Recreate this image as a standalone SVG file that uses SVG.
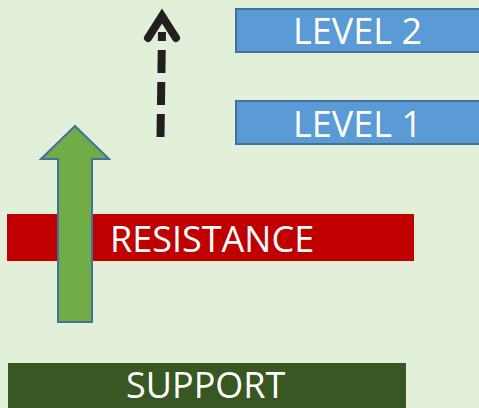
<svg xmlns="http://www.w3.org/2000/svg" width="479" height="408" viewBox="0 0 479 408">
<style>
.lbl{font-family:"Open Sans","Liberation Sans",sans-serif;font-size:36px;fill:#ffffff}
.lvl{fill:#5B9BD5;stroke:#41719C;stroke-width:2}
</style>
<rect x="0" y="0" width="479" height="408" fill="#E2EFD9"/>
<g id="resistance">
<rect x="7" y="214" width="407" height="47" fill="#C00000"/>
<text class="lbl" x="110" y="252">RESISTANCE</text>
</g>
<g id="support">
<rect x="8" y="363" width="398" height="45" fill="#385723"/>
<text class="lbl" x="126" y="398" font-size="35">SUPPORT</text>
</g>
<g id="level2">
<rect class="lvl" x="236" y="9" width="260" height="43"/>
<text class="lbl" x="293" y="44">LEVEL 2</text>
</g>
<g id="level1">
<rect class="lvl" x="236" y="101" width="260" height="43"/>
<text class="lbl" x="293" y="137">LEVEL 1</text>
</g>
<g id="connectors">
<path id="up-arrow" d="M75 126 L109 159 L92 159 L92 322 L58 322 L58 159 L41 159 Z" fill="#70AD47" stroke="#41719C" stroke-width="2"/>
<path d="M160.5 137 L162 32" fill="none" stroke="#231F20" stroke-width="8" stroke-dasharray="23 9"/>
<polyline points="148,38 162,16 176,38" fill="none" stroke="#231F20" stroke-width="8" stroke-linecap="round" stroke-linejoin="miter"/>
</g>
</svg>
